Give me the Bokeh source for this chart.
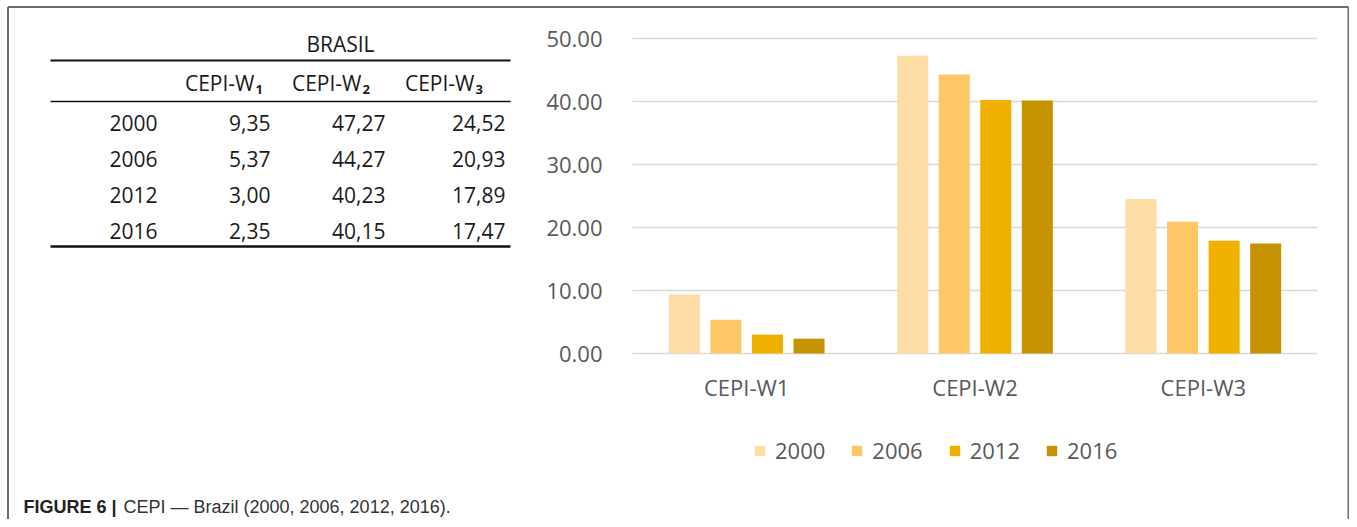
from bokeh.plotting import figure
from bokeh.models import (Range1d, NumeralTickFormatter, FixedTicker, LinearScale,
                          Legend, LegendItem, ColumnDataSource)
from bokeh.core.properties import value
from bokeh.embed import file_html
from bokeh.resources import INLINE

# ---------------- data ----------------
categories = ["CEPI-W1", "CEPI-W2", "CEPI-W3"]
years = ["2000", "2006", "2012", "2016"]
w1 = [9.35, 5.37, 3.00, 2.35]
w2 = [47.27, 44.27, 40.23, 40.15]
w3 = [24.52, 20.93, 17.89, 17.47]
table_title = "BRASIL"
header_base = ["CEPI-W", "CEPI-W", "CEPI-W"]
header_sub = ["1", "2", "3"]
y_ticks = [0, 10, 20, 30, 40, 50]
colors = ["#FDDCA6", "#FEC766", "#F0B000", "#C69300"]
caption_bold = "FIGURE 6 |"
caption_text = "CEPI \u2014 Brazil (2000, 2006, 2012, 2016)."

# ---------------- geometry (canvas pixels) ----------------
W, H = 1349, 519
PL, PT = 0, 0
PR, PB = PL + W, PT + H
CL, CR, CT, CB = 632, 1317, 38, 353  # chart plotting area
TXT = "#1a1a1a"
AX = "#595959"
FONT = value("Open Sans")
TS = "21px"


def fmt(v):
    return f"{v:.2f}".replace(".", ",")


ncat = len(categories)
ymax = 50
ux = (CR - CL) / ncat            # px per category
uy = (CB - CT) / ymax            # px per unit
x_range = Range1d(0 - (CL - PL) / ux, ncat + (PR - CR) / ux)
y_range = Range1d(0 - (PB - CB) / uy, ymax + (CT - PT) / uy)

p = figure(width=W, height=H, x_range=x_range, y_range=y_range,
           output_backend="svg", toolbar_location=None, min_border=0)
p.outline_line_color = None
p.grid.visible = False
p.extra_x_ranges = {"px": Range1d(PL, PR)}
p.extra_x_scales = {"px": LinearScale()}
p.extra_y_ranges = {"py": Range1d(PB, PT)}
p.extra_y_scales = {"py": LinearScale()}

# ---------------- outer border ----------------
p.segment(x0=[7.5, 7.5, 1348], y0=[6.5, 6.5, 6.5], x1=[1348, 7.5, 1348], y1=[6.5, 540, 540],
          line_color="#6b6b6b", line_width=2, x_range_name="px", y_range_name="py")


def txt(xs, ys, texts, align="left", size=TS, color=TXT, font=FONT, style="normal"):
    p.text(x=xs, y=ys, text=texts, x_range_name="px", y_range_name="py",
           text_align=align, text_baseline="middle", text_font=font,
           text_font_size=size, text_color=color, text_font_style=style)


# ---------------- table ----------------
txt([340], [43], [table_title], align="center")
p.segment(x0=[50] * 3, x1=[510] * 3, y0=[60, 101, 246], y1=[60, 101, 246],
          line_color="#111111", line_width=[2, 1.6, 2.4], x_range_name="px", y_range_name="py")
w_end = [254, 361, 474]
txt(w_end, [82] * 3, header_base, align="right")
txt([v + 1 for v in w_end], [89] * 3, header_sub, size="13px", style="bold")
row_y = [122 + 36 * i for i in range(len(years))]
txt([157] * len(years), row_y, years, align="right")
for col_x, vals in zip([270, 385, 505], [w1, w2, w3]):
    txt([col_x] * len(vals), row_y, [fmt(v) for v in vals], align="right")

# ---------------- bar chart ----------------
p.segment(x0=[0] * len(y_ticks), x1=[ncat] * len(y_ticks), y0=y_ticks, y1=y_ticks,
          line_color="#d9d9d9", line_width=1.6)

offsets = [-0.273, -0.091, 0.091, 0.273]
centers = [i + 0.5 for i in range(ncat)]
series = list(zip(w1, w2, w3))
items = []
for j, yr in enumerate(years):
    src = ColumnDataSource(dict(x=[c + offsets[j] for c in centers], v=list(series[j])))
    r = p.vbar(x="x", top="v", width=0.136, source=src,
               fill_color=colors[j], line_color=None)
    items.append(LegendItem(label=yr, renderers=[r]))

p.yaxis.ticker = FixedTicker(ticks=y_ticks)
p.yaxis.formatter = NumeralTickFormatter(format="0.00")
p.xaxis.ticker = FixedTicker(ticks=centers)
p.xaxis.major_label_overrides = {c: name for c, name in zip(centers, categories)}
for ax in (p.xaxis[0], p.yaxis[0]):
    ax.axis_line_color = None
    ax.major_tick_line_color = None
    ax.minor_tick_line_color = None
    ax.major_tick_out = 0
    ax.major_tick_in = 0
    ax.minor_tick_out = 0
    ax.major_label_text_font = "Open Sans"
    ax.major_label_text_font_size = "22px"
    ax.major_label_text_color = AX
# axes sit on the canvas edge; their labels are pulled in next to the chart area
p.yaxis.major_label_standoff = -602
p.xaxis.major_label_standoff = -(PB - 371)

legend = Legend(items=items, orientation="horizontal", location=(753 - PL, PB - 465),
                label_text_font="Open Sans", label_text_font_size="22px",
                label_text_color=AX, glyph_width=13, glyph_height=13,
                label_standoff=9, spacing=25, border_line_color=None,
                background_fill_alpha=0, margin=0, padding=2)
p.add_layout(legend, "center")

# ---------------- caption ----------------
txt([23], [506], [caption_bold], size="18px", color="#222222",
    font=value("Liberation Sans"), style="bold")
txt([123], [506], [caption_text], size="18px", color="#333333",
    font=value("Liberation Sans"))

open("out.html", "w").write(file_html(p, INLINE))
